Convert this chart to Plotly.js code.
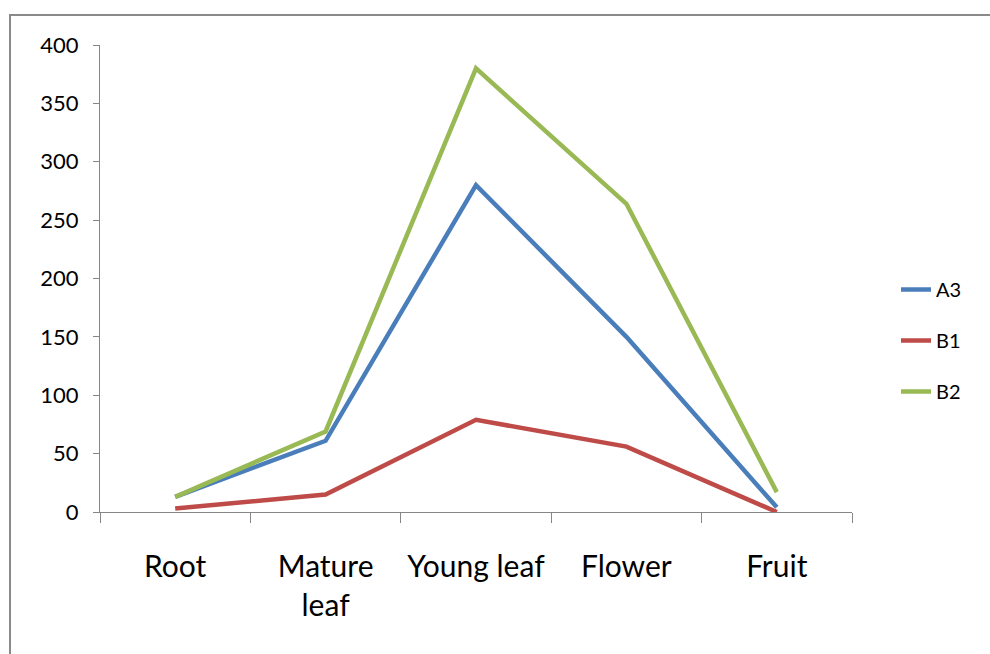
<!DOCTYPE html>
<html>
<head>
<meta charset="utf-8">
<script src="https://cdn.plot.ly/plotly-3.0.1.min.js"></script>
<style>
html,body{margin:0;padding:0;background:#fff;}
#chart{width:990px;height:654px;}
</style>
</head>
<body>
<div id="chart"></div>
<script>
const categories = ["Root", "Mature<br>leaf", "Young leaf", "Flower", "Fruit"];
const seriesNames = ["A3", "B1", "B2"];
const A3 = [13, 61, 280, 150, 4];
const B1 = [3, 15, 79, 56, 0];
const B2 = [13, 69, 380, 264, 17];
const colors = ["#4A7EBB", "#BE4B48", "#98B954"];
const yTicks = [0, 50, 100, 150, 200, 250, 300, 350, 400];

const values = [A3, B1, B2];
const traces = seriesNames.map((name, i) => ({
  type: "scatter",
  mode: "lines",
  name: name,
  legendgroup: name,
  x: categories,
  y: values[i],
  line: {color: colors[i], width: 4.5}
}));

const W = 990, H = 654, L = 100, R = 852, T = 45, B = 512;
const pw = R - L, ph = B - T;

const layout = {
  width: W, height: H,
  margin: {l: L, r: W - R, t: T, b: H - B},
  paper_bgcolor: "#fff",
  plot_bgcolor: "#fff",
  font: {family: "Lato, 'Open Sans', sans-serif", color: "#000"},
  showlegend: true,
  legend: {
    x: (896 - L) / pw, xanchor: "left",
    y: 1 - (270 - T) / ph, yanchor: "top",
    font: {size: 20, color: "#000"},
    tracegroupgap: 22,
    bgcolor: "rgba(0,0,0,0)"
  },
  xaxis: {
    type: "category",
    range: [-0.5, 4.5],
    showline: true, linecolor: "#868686", linewidth: 1,
    ticks: "outside", ticklen: 10, tickcolor: "#868686",
    tickson: "boundaries",
    tickangle: 0,
    showgrid: false, zeroline: false,
    tickfont: {size: 30, color: "#000"},
    ticklabelstandoff: 28,
    fixedrange: true
  },
  yaxis: {
    range: [0, 400],
    tickvals: yTicks,
    showline: true, linecolor: "#868686", linewidth: 1,
    ticks: "outside", ticklen: 6, tickcolor: "#868686",
    showgrid: false, zeroline: false,
    tickfont: {size: 22, color: "#000"},
    ticklabelstandoff: 10,
    fixedrange: true
  },
  shapes: [{
    type: "rect", xref: "paper", yref: "paper",
    x0: (10 - L) / pw, x1: (1000 - L) / pw,
    y0: -(670 - B) / ph, y1: 1 + (T - 15) / ph,
    line: {color: "#8a8a8a", width: 2},
    fillcolor: "rgba(0,0,0,0)",
    layer: "below"
  }]
};

Plotly.newPlot("chart", traces, layout, {displayModeBar: false, staticPlot: true});
</script>
</body>
</html>
